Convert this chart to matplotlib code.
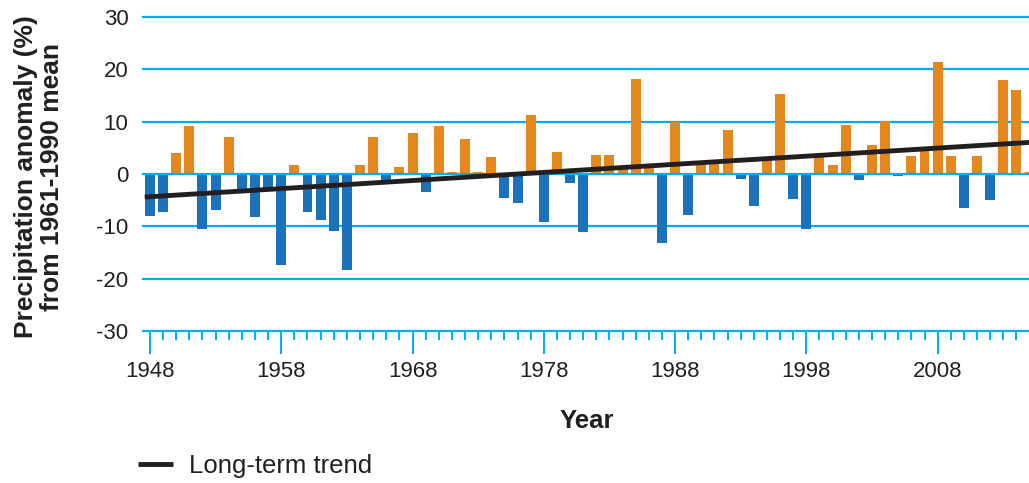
import matplotlib
matplotlib.use('Agg')
import matplotlib.pyplot as plt
import numpy as np
from matplotlib.ticker import MultipleLocator, FixedLocator

plt.rcParams['font.family'] = ['Liberation Sans', 'DejaVu Sans']
plt.rcParams['axes.unicode_minus'] = False

# precipitation anomaly (%) vs 1961-1990 mean, one value per year
years = list(range(1948, 2016))
anomaly = [-8.1, -7.3, 4.1, 9.1, -10.6, -6.8, 7.0, -3.1, -8.3, -3.0,
           -17.3, 1.7, -7.3, -8.7, -10.8, -18.4, 1.7, 7.0, -1.2, 1.3,
           7.8, -3.5, 9.1, 0.3, 6.6, 0.3, 3.2, -4.5, -5.6, 11.2,
           -9.2, 4.3, -1.8, -11.1, 3.6, 3.6, 1.0, 18.1, 1.3, -13.2,
           9.9, -7.9, 2.0, 2.1, 8.5, -1.0, -6.2, 2.7, 15.2, -4.8,
           -10.6, 3.3, 1.7, 9.3, -1.2, 5.5, 10.1, -0.4, 3.4, 4.4,
           21.5, 3.4, -6.4, 3.4, -5.0, 17.9, 16.0, 0.3]

# long-term trend end points (year, value)
trend_x = [1947.6, 2016.0]
trend_y = [-4.4, 6.2]

y_ticks = [-30, -20, -10, 0, 10, 20, 30]
x_major = [1948, 1958, 1968, 1978, 1988, 1998, 2008]

orange = '#E2881C'
blue = '#1B71BA'
cyan = '#00AEEF'
dark = '#231F20'

fig = plt.figure(figsize=(10.29, 4.83), dpi=100)
ax = fig.add_axes([143/1029, 0.3147, 1 - 143/1029, 0.650])

colors = [orange if v >= 0 else blue for v in anomaly]
ax.bar(years, anomaly, width=0.76, color=colors, zorder=2)

for t in y_ticks:
    ax.axhline(t, color=cyan, lw=1.6, zorder=1 if t != 0 else 2.5, clip_on=False)

ax.plot(trend_x, trend_y, color=dark, lw=3.5, solid_capstyle='butt', zorder=3,
        label='Long-term trend')

ax.set_xlim(1947.47, 2014.96)
ax.set_ylim(-30, 30)

for s in ax.spines.values():
    s.set_visible(False)

ax.set_yticks(y_ticks)
ax.tick_params(axis='y', length=0, pad=10.5, labelsize=16, labelcolor=dark)

ax.xaxis.set_major_locator(FixedLocator(x_major))
ax.xaxis.set_minor_locator(MultipleLocator(1))
ax.tick_params(axis='x', which='major', length=16.5, width=1.4, color=cyan,
               pad=5, labelsize=16, labelcolor=dark)
ax.tick_params(axis='x', which='minor', length=6.5, width=1.4, color=cyan)

fig.text(39/1029, 1 - 177/483, 'Precipitation anomaly (%)\nfrom 1961-1990 mean',
         rotation=90, ha='center', va='center', fontsize=19, fontweight='bold',
         color=dark, linespacing=1.1, multialignment='center')
fig.text(587/1029, 1 - 421/483, 'Year', ha='center', va='center',
         fontsize=18.5, fontweight='bold', color=dark)

fig.legend(loc='center left', bbox_to_anchor=(138/1029, 1 - 466/483),
           frameon=False, fontsize=18.5, handlelength=1.36, handletextpad=0.62,
           borderpad=0, borderaxespad=0, labelcolor=dark)

fig.savefig('out.png', dpi=100)
